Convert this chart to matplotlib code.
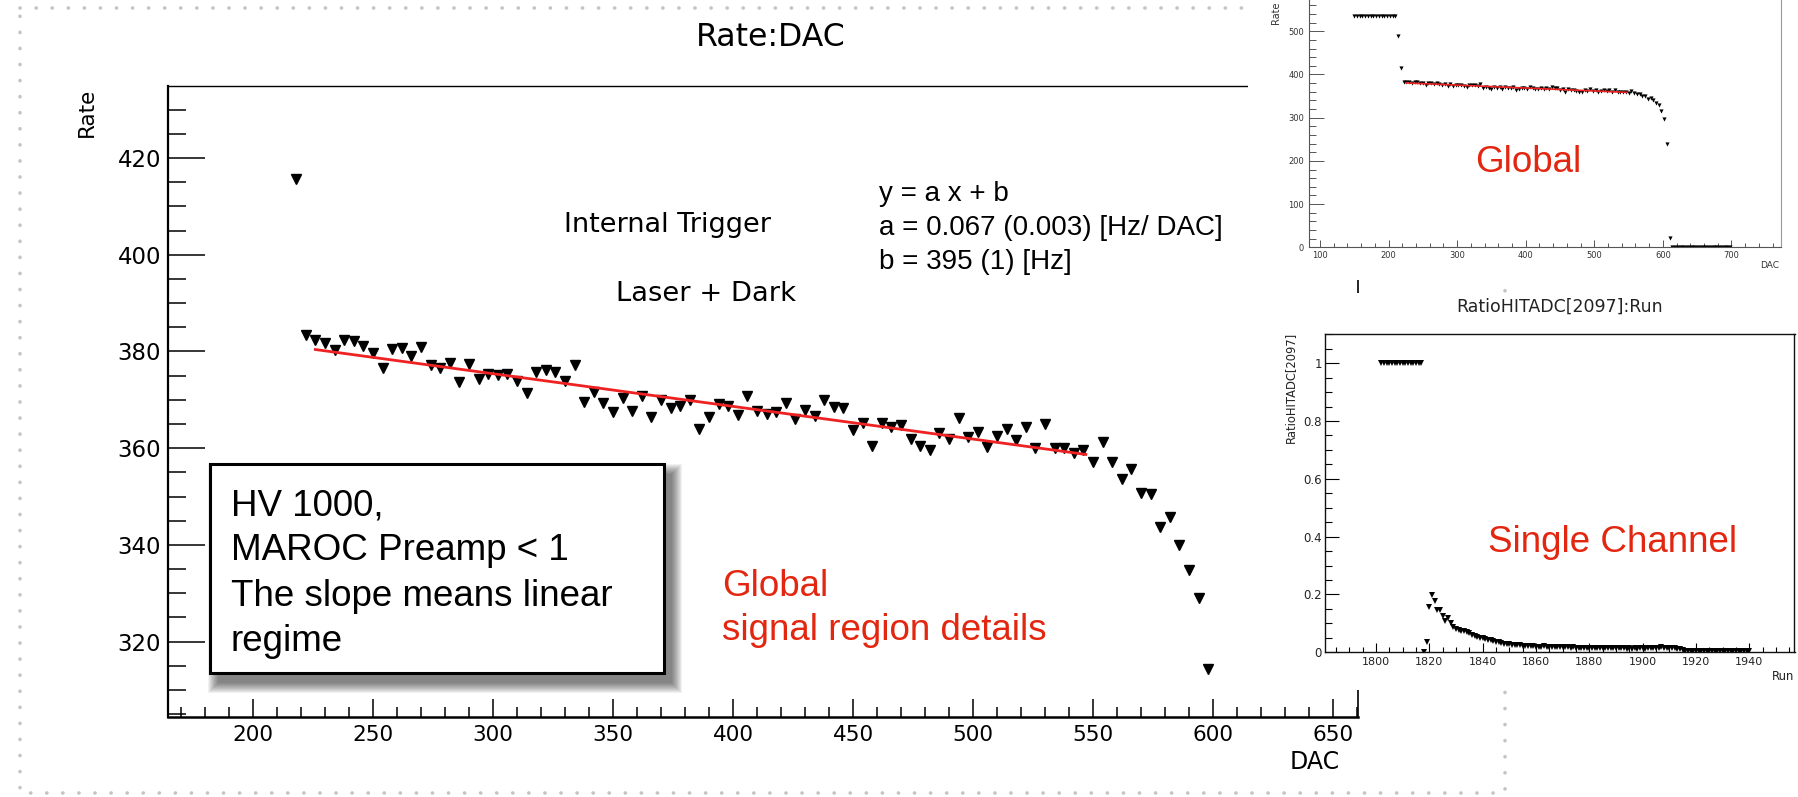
import numpy as np
import matplotlib
matplotlib.use("Agg")
import matplotlib.pyplot as plt
from matplotlib.lines import Line2D
from matplotlib.patches import Rectangle
from matplotlib.ticker import MultipleLocator, FormatStrFormatter

# ============================================================
# Data
# ============================================================

# main plot: Rate vs DAC threshold scan (step 4 DAC)
dac = np.arange(218, 602, 4)
rate = [
    415.6, 383.5, 382.4, 381.7, 380.2, 382.4, 382.1, 381.2,
    379.7, 376.6, 380.6, 380.8, 379.0, 381.0, 377.1, 376.6,
    377.6, 373.7, 377.4, 374.4, 375.3, 375.1, 375.3, 373.8,
    371.5, 375.7, 376.1, 375.7, 373.8, 377.1, 369.6, 371.7,
    369.3, 367.4, 370.3, 367.7, 370.7, 366.5, 370.0, 368.4,
    368.7, 370.0, 364.0, 366.5, 369.1, 368.7, 366.9, 370.7,
    367.6, 367.0, 367.4, 369.3, 366.0, 367.9, 366.7, 369.9,
    368.5, 368.3, 363.7, 365.3, 360.5, 365.3, 364.4, 364.8,
    361.8, 360.5, 359.6, 363.1, 361.9, 366.2, 362.4, 363.4,
    360.3, 362.5, 364.0, 361.7, 364.4, 360.1, 364.9, 360.1,
    360.1, 359.1, 359.7, 357.1, 361.3, 357.1, 353.7, 355.7,
    350.8, 350.6, 343.6, 345.8, 340.0, 334.8, 329.0, 314.4,
]

# linear fit drawn in red (end points)
fit_dac = [226, 547]
fit_rate = [380.4, 358.7]

# global inset: full scan
glob_dac = np.arange(150, 702, 4)
glob_rate = [535] * 16 + [490] + rate + [296, 238, 22] + [0] * 22

# single channel inset
run = np.arange(1802, 1941)
ratio = [1.0] * 16 + [
    0.0, 0.037, 0.156, 0.198, 0.176, 0.146, 0.145, 0.125, 0.108, 0.118,
    0.101, 0.088, 0.081, 0.077, 0.073, 0.074, 0.069, 0.066, 0.061, 0.057,
    0.053, 0.050, 0.049, 0.046, 0.044, 0.041, 0.038, 0.036, 0.034, 0.032,
    0.030, 0.029, 0.027, 0.026, 0.025, 0.024, 0.024, 0.023, 0.022, 0.022,
    0.021, 0.021, 0.020, 0.020, 0.019, 0.021, 0.020, 0.019, 0.018, 0.018,
    0.017, 0.018, 0.018, 0.017, 0.017, 0.016, 0.017, 0.016, 0.016, 0.016,
    0.015, 0.016, 0.016, 0.015, 0.015, 0.016, 0.015, 0.015, 0.016, 0.015,
    0.014, 0.015, 0.014, 0.015, 0.014, 0.014, 0.013, 0.014, 0.013, 0.014,
    0.013, 0.014, 0.014, 0.013, 0.014, 0.015, 0.015, 0.016, 0.016, 0.017,
    0.016, 0.016, 0.015, 0.015, 0.014, 0.012, 0.010, 0.008, 0.006, 0.004,
] + [0.003] * 23

box_lines = ["HV 1000,", "MAROC Preamp < 1", "The slope means linear", "regime"]
fit_lines = ["y = a x + b", "a = 0.067 (0.003) [Hz/ DAC]", "b = 395 (1) [Hz]"]

RED_TXT = "#e3260f"
RED_FIT = "#ee2222"
SLIDE_FONT = ["Liberation Sans", "DejaVu Sans"]

W, H = 1799, 797


def fx(x):
    return x / W


def fy(y):
    return 1 - y / H


def axes_rect(x0, y0, x1, y1):
    # pixel box (top-left origin) -> figure fraction rect
    return [fx(x0), fy(y1), (x1 - x0) / W, (y1 - y0) / H]


plt.rcParams["font.family"] = ["DejaVu Sans"]
fig = plt.figure(figsize=(W / 100, H / 100), dpi=100)
fig.patch.set_facecolor("white")

# ============================================================
# Slide dotted border
# ============================================================
bx = [fx(20), fx(1505), fx(1505), fx(20), fx(20)]
by = [fy(8), fy(8), fy(793), fy(793), fy(8)]
fig.add_artist(Line2D(bx, by, transform=fig.transFigure, color="#c4c4c4",
                      lw=2.6, dashes=(0.05, 4.4), dash_capstyle="round",
                      zorder=0.5))

# ============================================================
# Main ROOT plot
# ============================================================
ax = fig.add_axes(axes_rect(168, 86, 1358, 717))
ax.set_zorder(0)
ax.plot(dac, rate, "v", color="black", ms=7, zorder=2)
ax.plot(fit_dac, fit_rate, color=RED_FIT, lw=2, zorder=3)
ax.set_xlim(164.6, 660.4)
ax.set_ylim(304.4, 434.9)
ax.xaxis.set_major_locator(MultipleLocator(50))
ax.xaxis.set_minor_locator(MultipleLocator(10))
ax.yaxis.set_major_locator(MultipleLocator(20))
ax.yaxis.set_minor_locator(MultipleLocator(5))
ax.tick_params(which="both", direction="in", top=False, right=False, width=1.1)
ax.tick_params(axis="y", which="major", length=26.4, labelsize=16.5, pad=5)
ax.tick_params(axis="y", which="minor", length=13)
ax.tick_params(axis="x", which="major", length=13, labelsize=15.5, pad=5.5)
ax.tick_params(axis="x", which="minor", length=7.2)
ax.spines["top"].set_linewidth(1.0)
ax.spines["right"].set_linewidth(1.2)
ax.spines["left"].set_linewidth(1.6)
ax.spines["bottom"].set_linewidth(1.8)

fig.text(fx(771), fy(37), "Rate:DAC", ha="center", va="center", fontsize=22.7)
fig.text(fx(87), fy(112), "Rate", rotation=90, ha="center", va="center",
         fontsize=15.5)
fig.text(fx(1340), fy(762), "DAC", ha="right", va="center", fontsize=17)
fig.text(fx(668), fy(232), "Internal Trigger", ha="center", va="baseline",
         fontsize=19.5, zorder=4)
fig.text(fx(706), fy(301), "Laser + Dark", ha="center", va="baseline",
         fontsize=19.7, zorder=4)

for i, line in enumerate(fit_lines):
    fig.text(fx(879), fy(201 + 34 * i), line, ha="left", va="baseline",
             fontsize=20, family=SLIDE_FONT, zorder=4)

# text box with soft shadow
x0, y0, x1, y1 = 210, 464, 664, 673
for i in range(11):
    fig.add_artist(Rectangle((fx(x0 + 8 - i), fy(y1 + 10 + i)),
                             (x1 - x0 + 2 * i) / W, (y1 - y0 + 2 * i) / H,
                             transform=fig.transFigure, facecolor="black",
                             edgecolor="none", alpha=0.055, zorder=3))
fig.add_artist(Rectangle((fx(x0), fy(y1)), (x1 - x0) / W, (y1 - y0) / H,
                         transform=fig.transFigure, facecolor="white",
                         edgecolor="black", lw=2.2, zorder=3.1))
for i, line in enumerate(box_lines):
    fig.text(fx(231), fy(515 + 45.3 * i), line, ha="left", va="baseline",
             fontsize=26.5, family=SLIDE_FONT, zorder=4)

fig.text(fx(722), fy(596), "Global", ha="left", va="baseline", fontsize=26.5,
         color=RED_TXT, family=SLIDE_FONT, zorder=4)
fig.text(fx(722), fy(640), "signal region details", ha="left", va="baseline",
         fontsize=26.5, color=RED_TXT, family=SLIDE_FONT, zorder=4)

# white backgrounds of the pasted inset images
fig.add_artist(Rectangle((fx(1248), fy(280)), (W - 1248) / W, 280 / H,
                         transform=fig.transFigure, facecolor="white",
                         edgecolor="none", zorder=1))
fig.add_artist(Rectangle((fx(1265), fy(690)), (W - 1265) / W, (690 - 293) / H,
                         transform=fig.transFigure, facecolor="white",
                         edgecolor="none", zorder=1))

# ============================================================
# Inset: global scan (top is cut by the slide edge)
# ============================================================
axg = fig.add_axes(axes_rect(1308.8, -7.6, 1781, 247.3))
axg.set_zorder(2)
axg.patch.set_alpha(0)
axg.plot(glob_dac, glob_rate, "v", color="black", ms=3, mew=0)
axg.plot(fit_dac, fit_rate, color=RED_FIT, lw=1.2)
axg.set_xlim(83.7, 772.3)
axg.set_ylim(0, 590)
axg.xaxis.set_major_locator(MultipleLocator(100))
axg.xaxis.set_minor_locator(MultipleLocator(20))
axg.yaxis.set_major_locator(MultipleLocator(100))
axg.yaxis.set_minor_locator(MultipleLocator(20))
axg.tick_params(which="both", direction="in", top=False, right=False,
                width=0.7, color="#555555", labelcolor="#333333", labelsize=6)
axg.tick_params(axis="y", which="major", length=10.6, pad=3.5)
axg.tick_params(axis="y", which="minor", length=5)
axg.tick_params(axis="x", which="major", length=5, pad=2.5)
axg.tick_params(axis="x", which="minor", length=3)
for s in axg.spines.values():
    s.set_color("#555555")
    s.set_linewidth(0.8)
axg.spines["right"].set_color("#999999")

fig.text(fx(1276), fy(2), "Rate", rotation=90, ha="center", va="top",
         fontsize=7, color="#333333", zorder=4)
fig.text(fx(1779), fy(266), "DAC", ha="right", va="center", fontsize=6.5,
         color="#333333", zorder=4)
fig.text(fx(1528), fy(172), "Global", ha="center", va="baseline",
         fontsize=26.5, color=RED_TXT, family=SLIDE_FONT, zorder=4)
fig.text(fx(1560), fy(307), "RatioHITADC[2097]:Run", ha="center",
         va="center", fontsize=12.5, color="#222222", zorder=4)

# ============================================================
# Inset: single channel
# ============================================================
axs = fig.add_axes(axes_rect(1324.6, 334.3, 1794.5, 652.3))
axs.set_zorder(2)
axs.patch.set_alpha(0)
axs.plot(run, ratio, "v", color="black", ms=4, mew=0)
axs.set_xlim(1780.7, 1957)
axs.set_ylim(0, 1.1)
axs.xaxis.set_major_locator(MultipleLocator(20))
axs.xaxis.set_minor_locator(MultipleLocator(5))
axs.yaxis.set_major_locator(MultipleLocator(0.2))
axs.yaxis.set_minor_locator(MultipleLocator(0.05))
axs.yaxis.set_major_formatter(FormatStrFormatter("%g"))
axs.tick_params(which="both", direction="in", top=False, right=False,
                width=0.8, labelcolor="#222222")
axs.tick_params(axis="y", which="major", length=10, labelsize=8.5, pad=2)
axs.tick_params(axis="y", which="minor", length=5)
axs.tick_params(axis="x", which="major", length=6.5, labelsize=8, pad=3.6)
axs.tick_params(axis="x", which="minor", length=3.6)
for s in axs.spines.values():
    s.set_color("#111111")
    s.set_linewidth(1.0)

fig.text(fx(1290), fy(332), "RatioHITADC[2097]", rotation=90, ha="center",
         va="top", fontsize=8.3, color="#222222", zorder=4)
fig.text(fx(1794.5), fy(676), "Run", ha="right", va="center", fontsize=8.4,
         color="#222222", zorder=4)
fig.text(fx(1613), fy(552), "Single Channel", ha="center", va="baseline",
         fontsize=26.5, color=RED_TXT, family=SLIDE_FONT, zorder=4)

fig.savefig("out.png", dpi=100, facecolor="white")
